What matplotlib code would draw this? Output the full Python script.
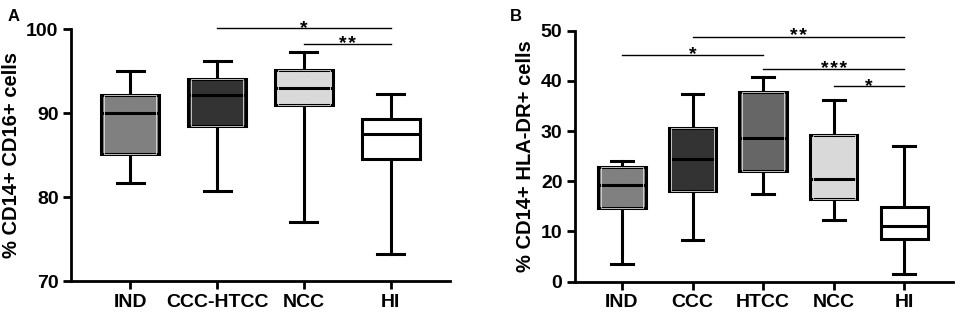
import matplotlib
matplotlib.use("Agg")
import matplotlib.pyplot as plt
from matplotlib.patches import Rectangle

plt.rcParams['font.family'] = ['Liberation Sans', 'DejaVu Sans']
plt.rcParams['font.weight'] = 'bold'

# panel A: % CD14+ CD16+ cells
cats_a = ['IND', 'CCC-HTCC', 'NCC', 'HI']
low_a = [81.7, 80.7, 77.0, 73.2]
q1_a = [85.1, 88.5, 91.0, 84.5]
med_a = [90.0, 92.1, 93.0, 87.5]
q3_a = [92.2, 94.0, 95.1, 89.3]
high_a = [95.0, 96.2, 97.3, 92.3]
colors_a = ['#808080', '#333333', '#d9d9d9', '#ffffff']
# (from, to, height, label)
sig_a = [(2, 4, 100.1, '*'), (3, 4, 98.2, '**')]

# panel B: % CD14+ HLA-DR+ cells
cats_b = ['IND', 'CCC', 'HTCC', 'NCC', 'HI']
low_b = [3.6, 8.2, 17.4, 12.3, 1.5]
q1_b = [14.6, 18.1, 22.1, 16.5, 8.5]
med_b = [19.3, 24.5, 28.6, 20.5, 11.0]
q3_b = [22.9, 30.6, 37.8, 29.3, 14.8]
high_b = [24.0, 37.3, 40.8, 36.2, 27.0]
colors_b = ['#808080', '#333333', '#666666', '#d9d9d9', '#ffffff']
sig_b = [(2, 5, 48.8, '**'), (1, 3, 45.2, '*'), (3, 5, 42.4, '***'), (4, 5, 39.0, '*')]


def boxpanel(ax, cats, low, q1, med, q3, high, colors, sigs, ylim, yticks, ylabel):
    stats = []
    for i in range(len(cats)):
        stats.append(dict(whislo=low[i], q1=q1[i], med=med[i], q3=q3[i], whishi=high[i]))
    pos = list(range(1, len(cats) + 1))
    w = 0.67
    lw = 2.2
    bp = ax.bxp(stats, positions=pos, widths=w, showfliers=False, patch_artist=True,
                boxprops=dict(linewidth=lw, edgecolor='black'),
                medianprops=dict(color='black', linewidth=lw),
                whiskerprops=dict(color='black', linewidth=lw),
                capprops=dict(color='black', linewidth=lw),
                capwidths=0.31)
    for patch, c in zip(bp['boxes'], colors):
        patch.set_facecolor(c)
    # faint inner outline, as in the original rendering
    for i, c in enumerate(colors):
        if c == '#ffffff':
            continue
        ax.add_patch(Rectangle((pos[i] - w / 2 + 0.035, q1[i]), w - 0.07, q3[i] - q1[i],
                               fill=False, edgecolor='#dddddd', linewidth=0.6,
                               zorder=3))
    for a, b, y, lab in sigs:
        ax.plot([a, b], [y, y], color='black', linewidth=1.0, clip_on=False)
        ax.annotate('\u200a'.join(lab), xy=((a + b) / 2, y), xytext=(0, -3.5),
                    textcoords='offset points', ha='center', va='baseline',
                    fontsize=14, fontweight='bold', annotation_clip=False)
    ax.set_xlim(0.32, len(cats) + 0.68)
    ax.set_ylim(*ylim)
    ax.set_yticks(yticks)
    ax.set_xticks(pos)
    ax.set_xticklabels(cats)
    ax.set_ylabel(ylabel, fontsize=14.5, fontweight='bold', labelpad=4)
    for s in ['top', 'right']:
        ax.spines[s].set_visible(False)
    for s in ['left', 'bottom']:
        ax.spines[s].set_linewidth(2.0)
    ax.tick_params(axis='both', width=2.0, length=6, labelsize=14, pad=3)


fig = plt.figure(figsize=(9.57, 3.13), dpi=100)
ax1 = fig.add_axes([0.0742, 0.1022, 0.396, 0.805])
ax2 = fig.add_axes([0.6008, 0.1002, 0.395, 0.802])

boxpanel(ax1, cats_a, low_a, q1_a, med_a, q3_a, high_a, colors_a, sig_a,
         (70, 100), [70, 80, 90, 100], '% CD14+ CD16+ cells')
boxpanel(ax2, cats_b, low_b, q1_b, med_b, q3_b, high_b, colors_b, sig_b,
         (0, 50), [0, 10, 20, 30, 40, 50], '% CD14+ HLA-DR+ cells')
ax2.set_xlim(0.334, 5.69)

fig.text(0.008, 0.97, 'A', fontsize=12, fontweight='bold', va='top')
fig.text(0.533, 0.97, 'B', fontsize=12, fontweight='bold', va='top')

fig.savefig('out.png', dpi=100)
